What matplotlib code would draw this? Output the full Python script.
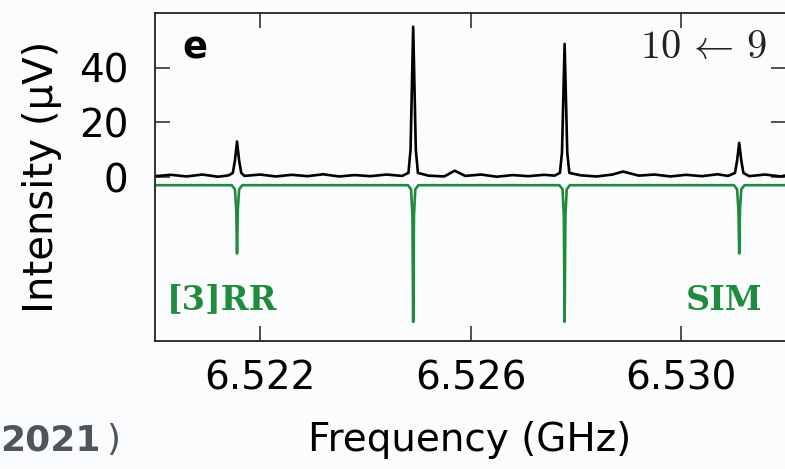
#!/usr/bin/env python3
"""
Spectrum panel (e): measured trace vs. inverted simulation, 10 <- 9 transition.
"""

import numpy as np
import matplotlib.pyplot as plt

plt.rcParams['mathtext.fontset'] = 'cm'

exp_freq = [6.5200, 6.5203, 6.5206, 6.5209, 6.5212, 6.5214,
            6.52148, 6.52152, 6.52156, 6.52160, 6.52164,
            6.5217, 6.5220, 6.5223, 6.5226, 6.5229, 6.5232, 6.5235,
            6.5238, 6.5241, 6.5244, 6.5247,
            6.52482, 6.52486, 6.52491, 6.52496, 6.52500,
            6.5252, 6.5255, 6.5257, 6.5259, 6.5262, 6.5265, 6.5268,
            6.5271, 6.5274, 6.5276,
            6.52770, 6.52774, 6.52779, 6.52784, 6.52788,
            6.5281, 6.5284, 6.5287, 6.5289, 6.5292, 6.5295, 6.5298,
            6.5301, 6.5304, 6.5307, 6.5309,
            6.53103, 6.53107, 6.53111, 6.53115, 6.53119,
            6.5313, 6.5316, 6.5319, 6.5320]
exp_int = [0.3, 0.8, 0.2, 0.9, 0.1, 0.6,
           1.5, 6.0, 13.0, 6.0, 1.5,
           0.4, 0.9, 0.2, 0.8, 0.3, 1.0, 0.2,
           0.7, 0.3, 0.9, 0.4,
           1.5, 10.0, 55.0, 10.0, 1.5,
           0.5, 0.2, 2.3, 0.4, 0.9, 0.1, 0.7,
           0.3, 0.8, 0.5,
           1.5, 9.0, 48.7, 9.0, 1.5,
           0.6, 0.2, 0.9, 2.0, 0.5, 0.9, 0.2,
           0.8, 0.3, 1.0, 0.4,
           1.5, 6.0, 12.5, 6.0, 1.5,
           0.3, 0.9, 0.2, 0.6]

# simulated spectrum (plotted inverted, offset below the trace)
sim_freq = [6.5200,
            6.52146, 6.52152, 6.521545, 6.52156, 6.521575, 6.52160, 6.52166,
            6.52481, 6.52487, 6.524895, 6.52491, 6.524925, 6.52495, 6.52501,
            6.52769, 6.52775, 6.527775, 6.52779, 6.527805, 6.52783, 6.52789,
            6.53101, 6.53107, 6.531095, 6.53111, 6.531125, 6.53115, 6.53121,
            6.5320]
sim_int = [-3.0,
           -3.0, -4.5, -12.0, -28.0, -12.0, -4.5, -3.0,
           -3.0, -4.5, -14.0, -53.0, -14.0, -4.5, -3.0,
           -3.0, -4.5, -14.0, -53.0, -14.0, -4.5, -3.0,
           -3.0, -4.5, -12.0, -28.0, -12.0, -4.5, -3.0,
           -3.0]

x_ticks = [6.522, 6.526, 6.530]
y_ticks = [0, 20, 40]

green = '#1e8c3c'
bg = '#fbfcfd'

fig = plt.figure(figsize=(7.85, 4.69), dpi=100, facecolor=bg)
ax = fig.add_axes([155 / 785, 1 - 341 / 469, 631 / 785, 328 / 469])
ax.set_facecolor(bg)

ax.plot(sim_freq, sim_int, '-', color=green, linewidth=1.9, solid_joinstyle='round')
ax.plot(exp_freq, exp_int, '-', color='black', linewidth=1.9, solid_joinstyle='round')

ax.set_xlim(6.520, 6.532)
ax.set_ylim(-60, 60)
ax.set_xticks(x_ticks)
ax.set_xticklabels([f'{v:.3f}' for v in x_ticks])
ax.set_yticks(y_ticks)

ax.tick_params(direction='in', length=10.5, width=1.1, color='#222222',
               top=True, right=True, labelsize=28)
ax.tick_params(axis='x', pad=13)
ax.tick_params(axis='y', pad=19)
for s in ax.spines.values():
    s.set_linewidth(1.3)
    s.set_color('#222222')

ax.text(0.043, 0.894, 'e', transform=ax.transAxes, fontsize=26.5,
        fontweight='bold', ha='left', va='center')
ax.text(0.970, 0.897, r'$10\,\leftarrow\,9$', transform=ax.transAxes,
        fontsize=29, ha='right', va='center', color='#222222')
ax.text(0.019, 0.125, '[3]RR', transform=ax.transAxes, fontsize=24,
        fontweight='bold', family='DejaVu Serif', color=green,
        ha='left', va='center')
ax.text(0.962, 0.125, 'SIM', transform=ax.transAxes, fontsize=24,
        fontweight='bold', family='DejaVu Serif', color=green,
        ha='right', va='center')

fig.text(42 / 785, 1 - 177 / 469, 'Intensity (μV)', rotation=90,
         fontsize=29, ha='center', va='center')
fig.text(470 / 785, 1 - 440 / 469, 'Frequency (GHz)', fontsize=28,
         ha='center', va='center')

# fragment of the caption that sits left of the axis label
fig.text(0.0, 1 - 440 / 469, '2021', fontsize=26, fontweight='bold',
         color='#50555b', ha='left', va='center')
fig.text(106 / 785, 1 - 440 / 469, ')', fontsize=26,
         color='#50555b', ha='left', va='center')

fig.savefig('out.png', dpi=100, facecolor=bg)
print('Saved out.png')
